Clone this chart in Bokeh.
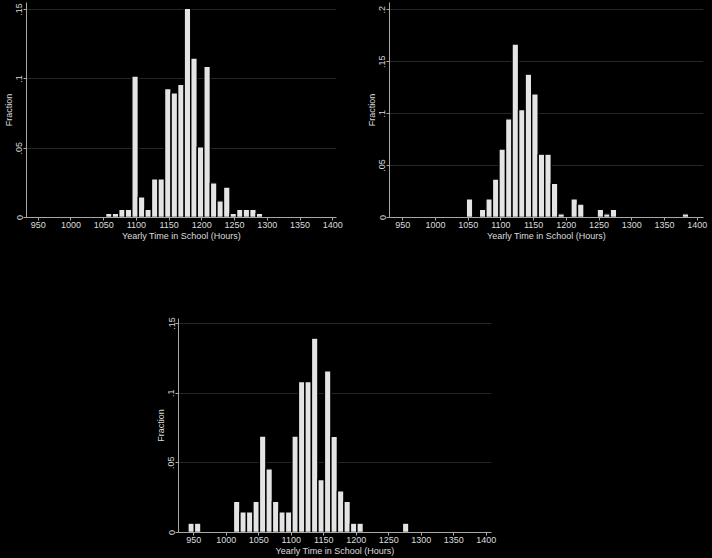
from bokeh.plotting import figure
from bokeh.layouts import column, row
from bokeh.models import FixedTicker, Range1d, GlobalInlineStyleSheet
from bokeh.embed import file_html
from bokeh.resources import INLINE

# ---- data (bin centres in hours, fraction of schools) ----
p1_centers = [1058, 1068, 1078, 1088, 1098, 1108, 1118, 1128, 1138, 1148, 1158, 1168,
              1178, 1188, 1198, 1208, 1218, 1228, 1238, 1248, 1258, 1268, 1278, 1288]
p1_frac = [0.003, 0.003, 0.006, 0.006, 0.102, 0.015, 0.006, 0.028, 0.028, 0.093, 0.090, 0.096,
           0.151, 0.115, 0.051, 0.109, 0.025, 0.012, 0.022, 0.003, 0.006, 0.006, 0.006, 0.003]

p2_centers = [1052, 1072, 1082, 1092, 1102, 1112, 1122, 1132, 1142, 1152, 1162, 1172,
              1182, 1192, 1212, 1222, 1252, 1262, 1272, 1382]
p2_frac = [0.018, 0.008, 0.018, 0.037, 0.066, 0.095, 0.167, 0.104, 0.138, 0.119, 0.061, 0.061,
           0.033, 0.0035, 0.018, 0.013, 0.008, 0.0035, 0.008, 0.0035]

p3_centers = [946, 956, 1016, 1026, 1036, 1046, 1056, 1066, 1076, 1086, 1096, 1106,
              1116, 1126, 1136, 1146, 1156, 1166, 1176, 1186, 1196, 1206, 1276]
p3_frac = [0.0067, 0.0067, 0.0224, 0.0148, 0.0148, 0.0224, 0.0693, 0.0457, 0.0224, 0.0148, 0.0148, 0.0693,
           0.1083, 0.1083, 0.1395, 0.038, 0.116, 0.069, 0.030, 0.0224, 0.0067, 0.0067, 0.0067]

x_ticks = [950, 1000, 1050, 1100, 1150, 1200, 1250, 1300, 1350, 1400]
y_ticks_a = [0, 0.05, 0.1, 0.15]
y_labels_a = ["0", ".05", ".1", ".15"]
y_ticks_b = [0, 0.05, 0.1, 0.15, 0.2]
y_labels_b = ["0", ".05", ".1", ".15", ".2"]

x_title = "Yearly Time in School (Hours)"
y_title = "Fraction"

FONT = "Liberation Sans"
TXT = "#dcdcdc"
AXC = "#a8a8a8"


def make(centers, fracs, xr, yr, yt, yl, w, h, mbl, mbr, mbt, mbb):
    p = figure(width=w, height=h, x_range=Range1d(*xr), y_range=Range1d(*yr),
               output_backend="svg", toolbar_location=None,
               min_border_left=mbl, min_border_right=mbr,
               min_border_top=mbt, min_border_bottom=mbb)
    p.background_fill_color = "black"
    p.border_fill_color = "black"
    p.outline_line_color = None
    p.vbar(x=centers, top=fracs, bottom=0, width=10,
           fill_color="#e4e4e4", line_color="black", line_width=1.4)
    p.xgrid.visible = False
    p.ygrid.grid_line_color = "#262626"
    p.ygrid.grid_line_width = 1
    p.xaxis.ticker = FixedTicker(ticks=x_ticks)
    p.yaxis.ticker = FixedTicker(ticks=yt)
    p.yaxis.major_label_overrides = {t: l for t, l in zip(yt, yl)}
    p.yaxis.major_label_orientation = "vertical"
    for ax in p.axis:
        ax.axis_line_color = AXC
        ax.major_tick_line_color = AXC
        ax.minor_tick_line_color = None
        ax.major_tick_out = 3
        ax.major_tick_in = 0
        ax.major_label_text_color = TXT
        ax.major_label_text_font = FONT
        ax.major_label_text_font_size = "9px"
        ax.major_label_standoff = 1
        ax.axis_label_text_color = TXT
        ax.axis_label_text_font = FONT
        ax.axis_label_text_font_size = "9px"
        ax.axis_label_text_font_style = "normal"
        ax.axis_label_standoff = 0
    p.xaxis.axis_label = x_title
    p.yaxis.axis_label = y_title
    return p


p1 = make(p1_centers, p1_frac, (932.2, 1405.6), (0, 0.1551), y_ticks_a, y_labels_a,
          355, 250, 25, 19, 2, 33)
p2 = make(p2_centers, p2_frac, (929.7, 1409.6), (0, 0.2070), y_ticks_b, y_labels_b,
          357, 250, 34, 9, 2, 33)
p3 = make(p3_centers, p3_frac, (926.5, 1408.1), (0, 0.1536), y_ticks_a, y_labels_a,
          712, 308, 178, 221, 68, 25)

layout = column(row(p1, p2), p3)
layout.stylesheets = [GlobalInlineStyleSheet(css="body { background: black; }")]

open("out.html", "w").write(file_html(layout, INLINE))
